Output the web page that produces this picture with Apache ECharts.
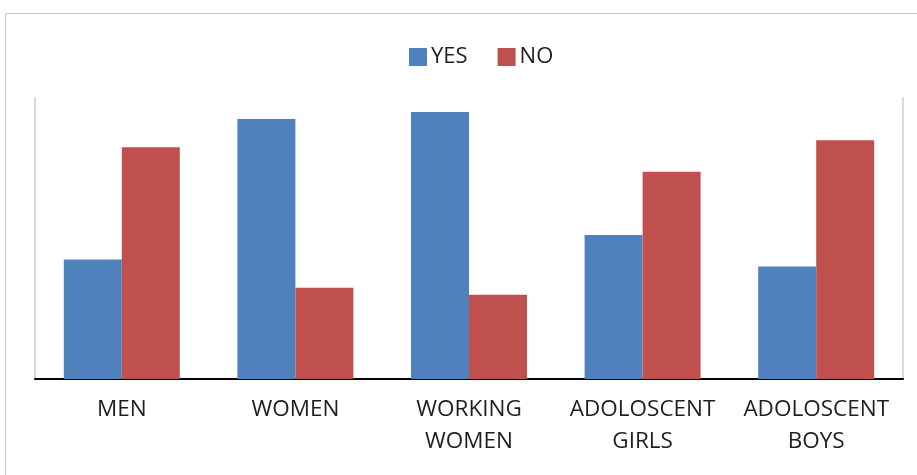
<!DOCTYPE html>
<html>
<head>
<meta charset="utf-8">
<script src="https://cdn.jsdelivr.net/npm/echarts@6/dist/echarts.min.js"></script>
<style>
  html, body { margin: 0; padding: 0; background: #ffffff; }
  #chart { width: 917px; height: 475px; }
</style>
</head>
<body>
<div id="chart"></div>
<script>
// Survey answers (percent) per group
const categories = ['MEN', 'WOMEN', 'WORKING\nWOMEN', 'ADOLOSCENT\nGIRLS', 'ADOLOSCENT\nBOYS'];
const yesValues = [34, 74, 76, 41, 32];
const noValues = [66, 26, 24, 59, 68];
const seriesNames = ['YES', 'NO'];

const FONT = '"Open Sans", "Liberation Sans", sans-serif';
const chart = echarts.init(document.getElementById('chart'), null, { renderer: 'canvas' });

chart.setOption({
  backgroundColor: '#ffffff',
  animation: false,
  color: ['#4F81BD', '#C0504D'],
  graphic: [{
    type: 'rect',
    silent: true,
    shape: { x: 5.5, y: 13.5, width: 1000, height: 1000 },
    style: { fill: 'none', stroke: '#c6c6c6', lineWidth: 1 }
  }],
  legend: {
    data: seriesNames,
    left: 409,
    top: 46,
    padding: 0,
    itemWidth: 18,
    itemHeight: 18,
    itemGap: 30,
    icon: 'rect',
    textStyle: { fontFamily: FONT, fontSize: 22, color: '#1f1f1f', padding: [0, 0, 0, -1] }
  },
  grid: { left: 35, right: 14, top: 98, bottom: 96 },
  xAxis: {
    type: 'category',
    data: categories,
    axisTick: { show: false },
    axisLine: { lineStyle: { color: '#000000', width: 2 } },
    axisLabel: {
      fontFamily: FONT,
      fontSize: 22.5,
      lineHeight: 32,
      color: '#1f1f1f',
      margin: 15,
      interval: 0
    }
  },
  yAxis: [{
    type: 'value',
    min: 0,
    max: 80,
    interval: 10,
    axisLabel: { show: false },
    axisTick: { show: false },
    splitLine: { show: false },
    axisLine: { show: true, lineStyle: { color: '#d9d9d9', width: 2 } }
  }, {
    type: 'value',
    position: 'right',
    min: 0,
    max: 80,
    interval: 10,
    axisLabel: { show: false },
    axisTick: { show: false },
    splitLine: { show: false },
    axisLine: { show: true, lineStyle: { color: '#d9d9d9', width: 2 } }
  }],
  series: [{
    name: seriesNames[0],
    type: 'bar',
    data: yesValues,
    barWidth: 58,
    barGap: '0%'
  }, {
    name: seriesNames[1],
    type: 'bar',
    data: noValues,
    barWidth: 58,
    barGap: '0%'
  }]
});
</script>
</body>
</html>
